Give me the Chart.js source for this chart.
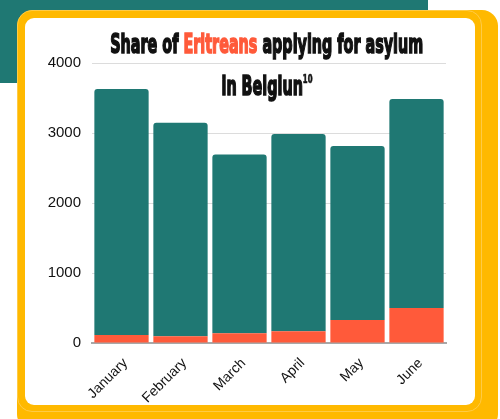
<!DOCTYPE html>
<html>
<head>
<meta charset="utf-8">
<script src="https://cdn.jsdelivr.net/npm/chart.js@4.4.0/dist/chart.umd.min.js"></script>
<style>
  html, body { margin: 0; padding: 0; }
  body { width: 500px; height: 419px; position: relative; overflow: hidden; background: #fff; }
  #teal { position: absolute; left: 0; top: 0; width: 428px; height: 83px; background: #1f7873; }
  #cardBack { position: absolute; left: 17px; top: 10px; width: 481px; height: 420px; background: #ffb900; border-radius: 16px; }
  #cardLine { position: absolute; left: 17px; top: 10px; width: 465px; height: 402px; border-radius: 15px;
              border: 1px solid #ffcb45; box-sizing: border-box; }
  #card { position: absolute; left: 25px; top: 18px; width: 450px; height: 387px; background: #fff; border-radius: 9px; }
  #chartBox { position: absolute; left: 25px; top: 18px; }
  #title { position: absolute; left: 0; top: 0; width: 534px; text-align: center;
           font-family: "Liberation Sans Narrow", "DejaVu Sans Condensed", "Liberation Sans", sans-serif;
           font-weight: 700; color: #111; -webkit-text-stroke: 1.6px #111; }
  #title .line { position: absolute; left: 0; width: 534px; text-align: center; white-space: nowrap; }
  #title .line span.inner { display: inline-block; transform-origin: center center; }
  #line1 { top: 28px; font-size: 27px; line-height: 32px; }
  #line2 { top: 63px; font-size: 27px; line-height: 32px; }
  .red { color: #ff5a3a; -webkit-text-stroke: 1.6px #ff5a3a; }
  sup { font-size: 13px; -webkit-text-stroke: 0.7px #111; vertical-align: 12px; }
</style>
</head>
<body>
<div id="teal"></div>
<div id="cardBack"></div>
<div id="cardLine"></div>
<div id="card"></div>
<div id="chartBox"><canvas id="myChart" width="450" height="387"></canvas></div>
<div id="title">
  <div class="line" id="line1"><span class="inner" id="t1">Share of <span class="red">Eritreans</span> applying for asylum</span></div>
  <div class="line" id="line2"><span class="inner" id="t2">in Belgiun<sup>10</sup></span></div>
</div>
<script>
const months = ['January', 'February', 'March', 'April', 'May', 'June'];
const eritreans = [115, 96, 139, 168, 330, 501];
const others = [3515, 3052, 2554, 2818, 2484, 2986];
const yTicks = [0, 1000, 2000, 3000, 4000];

// squeeze title lines to the widths seen in the reference
function fitTitle(id, target) {
    const el = document.getElementById(id);
    const w = el.getBoundingClientRect().width;
    el.style.transform = 'scaleX(' + (target / w) + ')';
}
fitTitle('t1', 313);
fitTitle('t2', 91);

const ctx = document.getElementById('myChart').getContext('2d');
const chart = new Chart(ctx, {
    type: 'bar',
    data: {
        labels: months,
        datasets: [{
            label: 'Eritreans',
            data: eritreans,
            backgroundColor: '#ff5a3a',
            borderWidth: 0,
            categoryPercentage: 1,
            barPercentage: 0.92
        }, {
            label: 'Other nationalities',
            data: others,
            backgroundColor: '#1f7873',
            borderWidth: 0,
            borderRadius: 3,
            categoryPercentage: 1,
            barPercentage: 0.92
        }]
    },
    options: {
        responsive: false,
        animation: false,
        layout: { padding: { top: 45, right: 29, left: 0, bottom: 0 } },
        plugins: {
            legend: { display: false },
            title: { display: false },
            tooltip: { enabled: false }
        },
        scales: {
            x: {
                stacked: true,
                grid: { display: false },
                border: { display: true, color: '#a8a8a8', width: 2 },
                ticks: {
                    color: '#111',
                    font: { family: 'Liberation Sans, Arial, sans-serif', size: 14 },
                    minRotation: 45,
                    maxRotation: 45,
                    padding: 4,
                    labelOffset: 4
                },
                afterFit: function(scale) { scale.height = 62; }
            },
            y: {
                stacked: true,
                min: 0,
                max: 4000,
                border: { display: false },
                grid: { color: '#dcdcdc', lineWidth: 1, drawTicks: false },
                ticks: {
                    stepSize: 1000,
                    color: '#111',
                    padding: 11,
                    font: { family: 'Liberation Sans, Arial, sans-serif', size: 15 },
                    callback: function(value) { return yTicks.includes(value) ? String(value) : ''; }
                },
                afterFit: function(scale) { scale.width = 67; }
            }
        }
    }
});
</script>
</body>
</html>
